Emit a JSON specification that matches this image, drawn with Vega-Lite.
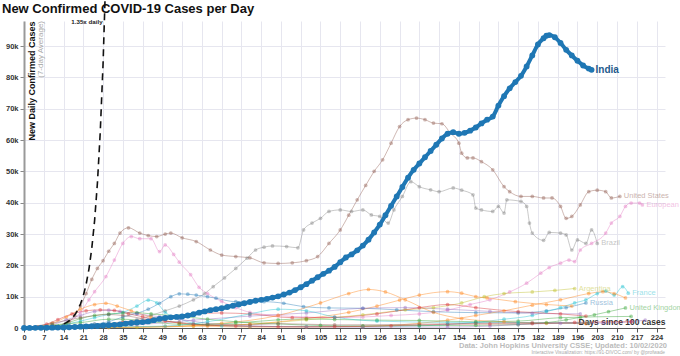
{
  "$schema": "https://vega.github.io/schema/vega-lite/v6.json",
  "autosize": {"type": "none"},
  "padding": {"left": 24, "top": 21, "right": 15, "bottom": 28},
  "width": 641,
  "height": 307,
  "background": "white",
  "config": {
    "view": {"stroke": null},
    "font": "Liberation Sans",
    "axis": {"labelOverlap": false, "labelFlush": false}
  },
  "datasets": {
    "bg": [
      {"c":"United States","d":0,"v":20},{"c":"United States","d":7,"v":60},{"c":"United States","d":10,"v":150},{"c":"United States","d":12,"v":350},{"c":"United States","d":14,"v":900},{"c":"United States","d":16,"v":2000},{"c":"United States","d":18,"v":4000},{"c":"United States","d":20,"v":7000},{"c":"United States","d":22,"v":11000},{"c":"United States","d":24,"v":15500},{"c":"United States","d":26,"v":19000},{"c":"United States","d":28,"v":21500},{"c":"United States","d":30,"v":24500},{"c":"United States","d":32,"v":27000},{"c":"United States","d":34,"v":30300},{"c":"United States","d":37,"v":32000},{"c":"United States","d":41,"v":30300},{"c":"United States","d":44,"v":29500},{"c":"United States","d":47,"v":29200},{"c":"United States","d":50,"v":30000},{"c":"United States","d":52,"v":30300},{"c":"United States","d":56,"v":28800},{"c":"United States","d":61,"v":27600},{"c":"United States","d":66,"v":24900},{"c":"United States","d":70,"v":23300},{"c":"United States","d":75,"v":22800},{"c":"United States","d":80,"v":22400},{"c":"United States","d":85,"v":20800},{"c":"United States","d":90,"v":20600},{"c":"United States","d":95,"v":20800},{"c":"United States","d":100,"v":21500},{"c":"United States","d":104,"v":22800},{"c":"United States","d":108,"v":27000},{"c":"United States","d":112,"v":31300},{"c":"United States","d":115,"v":36000},{"c":"United States","d":118,"v":40900},{"c":"United States","d":121,"v":45500},{"c":"United States","d":124,"v":50000},{"c":"United States","d":127,"v":53700},{"c":"United States","d":130,"v":59000},{"c":"United States","d":133,"v":64300},{"c":"United States","d":136,"v":66500},{"c":"United States","d":139,"v":67000},{"c":"United States","d":142,"v":66500},{"c":"United States","d":145,"v":65400},{"c":"United States","d":148,"v":65200},{"c":"United States","d":151,"v":62200},{"c":"United States","d":154,"v":59000},{"c":"United States","d":155,"v":55800},{"c":"United States","d":157,"v":54300},{"c":"United States","d":159,"v":54300},{"c":"United States","d":162,"v":53100},{"c":"United States","d":166,"v":50500},{"c":"United States","d":170,"v":45100},{"c":"United States","d":172,"v":43500},{"c":"United States","d":176,"v":42000},{"c":"United States","d":180,"v":42000},{"c":"United States","d":184,"v":41500},{"c":"United States","d":187,"v":41500},{"c":"United States","d":190,"v":38800},{"c":"United States","d":192,"v":35000},{"c":"United States","d":194,"v":35600},{"c":"United States","d":197,"v":39300},{"c":"United States","d":200,"v":43500},{"c":"United States","d":203,"v":44000},{"c":"United States","d":206,"v":43500},{"c":"United States","d":208,"v":41500},{"c":"United States","d":211,"v":42000},
      {"c":"Brazil","d":0,"v":15},{"c":"Brazil","d":10,"v":300},{"c":"Brazil","d":15,"v":500},{"c":"Brazil","d":20,"v":900},{"c":"Brazil","d":25,"v":1200},{"c":"Brazil","d":30,"v":1500},{"c":"Brazil","d":35,"v":1900},{"c":"Brazil","d":40,"v":2700},{"c":"Brazil","d":45,"v":4000},{"c":"Brazil","d":50,"v":5500},{"c":"Brazil","d":55,"v":7000},{"c":"Brazil","d":60,"v":9000},{"c":"Brazil","d":64,"v":11000},{"c":"Brazil","d":67,"v":13200},{"c":"Brazil","d":71,"v":16000},{"c":"Brazil","d":75,"v":19000},{"c":"Brazil","d":79,"v":22300},{"c":"Brazil","d":82,"v":24900},{"c":"Brazil","d":85,"v":25800},{"c":"Brazil","d":88,"v":26200},{"c":"Brazil","d":93,"v":26000},{"c":"Brazil","d":97,"v":25600},{"c":"Brazil","d":99,"v":31300},{"c":"Brazil","d":102,"v":33500},{"c":"Brazil","d":105,"v":35000},{"c":"Brazil","d":108,"v":37200},{"c":"Brazil","d":112,"v":37700},{"c":"Brazil","d":116,"v":37200},{"c":"Brazil","d":120,"v":37700},{"c":"Brazil","d":123,"v":36100},{"c":"Brazil","d":126,"v":35600},{"c":"Brazil","d":129,"v":33500},{"c":"Brazil","d":131,"v":37700},{"c":"Brazil","d":134,"v":42000},{"c":"Brazil","d":137,"v":46700},{"c":"Brazil","d":140,"v":45100},{"c":"Brazil","d":144,"v":44100},{"c":"Brazil","d":147,"v":43500},{"c":"Brazil","d":152,"v":44700},{"c":"Brazil","d":155,"v":44000},{"c":"Brazil","d":159,"v":42500},{"c":"Brazil","d":160,"v":38300},{"c":"Brazil","d":162,"v":37700},{"c":"Brazil","d":166,"v":37200},{"c":"Brazil","d":168,"v":38800},{"c":"Brazil","d":170,"v":36700},{"c":"Brazil","d":171,"v":40900},{"c":"Brazil","d":176,"v":40400},{"c":"Brazil","d":178,"v":38800},{"c":"Brazil","d":179,"v":33500},{"c":"Brazil","d":180,"v":30300},{"c":"Brazil","d":184,"v":28000},{"c":"Brazil","d":186,"v":30500},{"c":"Brazil","d":190,"v":30300},{"c":"Brazil","d":192,"v":29700},{"c":"Brazil","d":194,"v":24900},{"c":"Brazil","d":196,"v":28100},{"c":"Brazil","d":199,"v":27000},{"c":"Brazil","d":201,"v":31300},{"c":"Brazil","d":203,"v":27000},
      {"c":"European Union","d":0,"v":20},{"c":"European Union","d":10,"v":300},{"c":"European Union","d":15,"v":1500},{"c":"European Union","d":20,"v":5000},{"c":"European Union","d":23,"v":9000},{"c":"European Union","d":25,"v":11600},{"c":"European Union","d":29,"v":16400},{"c":"European Union","d":32,"v":21700},{"c":"European Union","d":35,"v":27000},{"c":"European Union","d":38,"v":29200},{"c":"European Union","d":41,"v":28500},{"c":"European Union","d":45,"v":28500},{"c":"European Union","d":48,"v":24400},{"c":"European Union","d":50,"v":26500},{"c":"European Union","d":53,"v":23500},{"c":"European Union","d":55,"v":21000},{"c":"European Union","d":59,"v":17000},{"c":"European Union","d":62,"v":13000},{"c":"European Union","d":65,"v":11000},{"c":"European Union","d":70,"v":8500},{"c":"European Union","d":75,"v":6500},{"c":"European Union","d":80,"v":5000},{"c":"European Union","d":90,"v":4000},{"c":"European Union","d":100,"v":3500},{"c":"European Union","d":110,"v":3300},{"c":"European Union","d":120,"v":3500},{"c":"European Union","d":130,"v":4000},{"c":"European Union","d":140,"v":4500},{"c":"European Union","d":150,"v":5700},{"c":"European Union","d":158,"v":7500},{"c":"European Union","d":165,"v":9000},{"c":"European Union","d":172,"v":11500},{"c":"European Union","d":178,"v":14300},{"c":"European Union","d":183,"v":17500},{"c":"European Union","d":186,"v":19300},{"c":"European Union","d":190,"v":20700},{"c":"European Union","d":193,"v":21700},{"c":"European Union","d":195,"v":21200},{"c":"European Union","d":197,"v":24900},{"c":"European Union","d":201,"v":27000},{"c":"European Union","d":206,"v":30300},{"c":"European Union","d":208,"v":33500},{"c":"European Union","d":211,"v":35600},{"c":"European Union","d":213,"v":38800},{"c":"European Union","d":215,"v":39900},{"c":"European Union","d":218,"v":39900},{"c":"European Union","d":219,"v":39300},
      {"c":"Russia","d":0,"v":20},{"c":"Russia","d":10,"v":100},{"c":"Russia","d":15,"v":300},{"c":"Russia","d":20,"v":600},{"c":"Russia","d":25,"v":1200},{"c":"Russia","d":30,"v":2000},{"c":"Russia","d":35,"v":3500},{"c":"Russia","d":40,"v":4700},{"c":"Russia","d":44,"v":6000},{"c":"Russia","d":48,"v":7900},{"c":"Russia","d":52,"v":10000},{"c":"Russia","d":55,"v":10900},{"c":"Russia","d":58,"v":10800},{"c":"Russia","d":61,"v":10500},{"c":"Russia","d":65,"v":10000},{"c":"Russia","d":68,"v":9500},{"c":"Russia","d":75,"v":8400},{"c":"Russia","d":85,"v":8400},{"c":"Russia","d":92,"v":7900},{"c":"Russia","d":99,"v":6800},{"c":"Russia","d":108,"v":6400},{"c":"Russia","d":120,"v":6300},{"c":"Russia","d":132,"v":5800},{"c":"Russia","d":145,"v":5200},{"c":"Russia","d":160,"v":4900},{"c":"Russia","d":175,"v":4800},{"c":"Russia","d":185,"v":5500},{"c":"Russia","d":192,"v":6500},{"c":"Russia","d":199,"v":8000},
      {"c":"Argentina","d":0,"v":10},{"c":"Argentina","d":20,"v":100},{"c":"Argentina","d":40,"v":200},{"c":"Argentina","d":60,"v":600},{"c":"Argentina","d":80,"v":1200},{"c":"Argentina","d":100,"v":2600},{"c":"Argentina","d":120,"v":4200},{"c":"Argentina","d":135,"v":5800},{"c":"Argentina","d":145,"v":6500},{"c":"Argentina","d":155,"v":8000},{"c":"Argentina","d":163,"v":10000},{"c":"Argentina","d":170,"v":11000},{"c":"Argentina","d":180,"v":11500},{"c":"Argentina","d":188,"v":12000},{"c":"Argentina","d":195,"v":12600},
      {"c":"France","d":0,"v":20},{"c":"France","d":10,"v":400},{"c":"France","d":15,"v":1200},{"c":"France","d":20,"v":2200},{"c":"France","d":25,"v":3300},{"c":"France","d":30,"v":4300},{"c":"France","d":35,"v":5000},{"c":"France","d":40,"v":7000},{"c":"France","d":44,"v":8900},{"c":"France","d":47,"v":8000},{"c":"France","d":50,"v":5000},{"c":"France","d":55,"v":3000},{"c":"France","d":60,"v":1500},{"c":"France","d":70,"v":700},{"c":"France","d":80,"v":500},{"c":"France","d":100,"v":500},{"c":"France","d":120,"v":550},{"c":"France","d":140,"v":700},{"c":"France","d":150,"v":1100},{"c":"France","d":160,"v":1800},{"c":"France","d":170,"v":2800},{"c":"France","d":180,"v":4000},{"c":"France","d":185,"v":5200},{"c":"France","d":190,"v":6500},{"c":"France","d":195,"v":8000},{"c":"France","d":199,"v":9000},{"c":"France","d":203,"v":11000},{"c":"France","d":206,"v":11800},{"c":"France","d":209,"v":10500},{"c":"France","d":212,"v":13200},{"c":"France","d":214,"v":11100},
      {"c":"Spain","d":0,"v":20},{"c":"Spain","d":5,"v":400},{"c":"Spain","d":10,"v":1500},{"c":"Spain","d":15,"v":3500},{"c":"Spain","d":20,"v":6000},{"c":"Spain","d":25,"v":7500},{"c":"Spain","d":29,"v":7900},{"c":"Spain","d":33,"v":7000},{"c":"Spain","d":38,"v":5500},{"c":"Spain","d":45,"v":3500},{"c":"Spain","d":55,"v":1500},{"c":"Spain","d":65,"v":600},{"c":"Spain","d":80,"v":300},{"c":"Spain","d":100,"v":300},{"c":"Spain","d":120,"v":500},{"c":"Spain","d":140,"v":1500},{"c":"Spain","d":150,"v":2500},{"c":"Spain","d":160,"v":4000},{"c":"Spain","d":170,"v":5500},{"c":"Spain","d":180,"v":7300},{"c":"Spain","d":190,"v":9000},{"c":"Spain","d":200,"v":11000},{"c":"Spain","d":205,"v":11600},{"c":"Spain","d":209,"v":11000},{"c":"Spain","d":213,"v":9600},
      {"c":"Colombia","d":0,"v":10},{"c":"Colombia","d":30,"v":150},{"c":"Colombia","d":60,"v":600},{"c":"Colombia","d":80,"v":1200},{"c":"Colombia","d":100,"v":3000},{"c":"Colombia","d":115,"v":5000},{"c":"Colombia","d":125,"v":7000},{"c":"Colombia","d":133,"v":8900},{"c":"Colombia","d":140,"v":10500},{"c":"Colombia","d":150,"v":11600},{"c":"Colombia","d":155,"v":11100},{"c":"Colombia","d":160,"v":10000},{"c":"Colombia","d":164,"v":9600},{"c":"Colombia","d":174,"v":8400},{"c":"Colombia","d":185,"v":7500},{"c":"Colombia","d":194,"v":7000},
      {"c":"Mexico","d":0,"v":10},{"c":"Mexico","d":20,"v":250},{"c":"Mexico","d":40,"v":1000},{"c":"Mexico","d":60,"v":2500},{"c":"Mexico","d":80,"v":3800},{"c":"Mexico","d":100,"v":4800},{"c":"Mexico","d":120,"v":6300},{"c":"Mexico","d":135,"v":6500},{"c":"Mexico","d":150,"v":6000},{"c":"Mexico","d":165,"v":5300},{"c":"Mexico","d":180,"v":4700},{"c":"Mexico","d":197,"v":4500},
      {"c":"Peru","d":0,"v":10},{"c":"Peru","d":20,"v":300},{"c":"Peru","d":35,"v":1800},{"c":"Peru","d":50,"v":3500},{"c":"Peru","d":60,"v":4500},{"c":"Peru","d":70,"v":4800},{"c":"Peru","d":80,"v":4500},{"c":"Peru","d":95,"v":3300},{"c":"Peru","d":110,"v":3400},{"c":"Peru","d":125,"v":4500},{"c":"Peru","d":140,"v":6500},{"c":"Peru","d":150,"v":7500},{"c":"Peru","d":160,"v":6500},{"c":"Peru","d":175,"v":5200},{"c":"Peru","d":190,"v":4500},{"c":"Peru","d":199,"v":3800},
      {"c":"South Africa","d":0,"v":10},{"c":"South Africa","d":30,"v":200},{"c":"South Africa","d":50,"v":500},{"c":"South Africa","d":70,"v":1500},{"c":"South Africa","d":90,"v":4000},{"c":"South Africa","d":105,"v":8000},{"c":"South Africa","d":115,"v":11000},{"c":"South Africa","d":122,"v":12300},{"c":"South Africa","d":128,"v":11500},{"c":"South Africa","d":135,"v":9000},{"c":"South Africa","d":145,"v":5000},{"c":"South Africa","d":155,"v":3000},{"c":"South Africa","d":170,"v":2000},{"c":"South Africa","d":185,"v":1500},{"c":"South Africa","d":199,"v":1400},
      {"c":"United Kingdom","d":0,"v":10},{"c":"United Kingdom","d":10,"v":500},{"c":"United Kingdom","d":15,"v":1500},{"c":"United Kingdom","d":20,"v":3000},{"c":"United Kingdom","d":25,"v":4000},{"c":"United Kingdom","d":30,"v":4500},{"c":"United Kingdom","d":35,"v":4800},{"c":"United Kingdom","d":40,"v":4900},{"c":"United Kingdom","d":45,"v":4500},{"c":"United Kingdom","d":55,"v":3800},{"c":"United Kingdom","d":65,"v":2800},{"c":"United Kingdom","d":75,"v":2000},{"c":"United Kingdom","d":90,"v":1300},{"c":"United Kingdom","d":105,"v":800},{"c":"United Kingdom","d":120,"v":650},{"c":"United Kingdom","d":140,"v":750},{"c":"United Kingdom","d":160,"v":850},{"c":"United Kingdom","d":175,"v":1100},{"c":"United Kingdom","d":185,"v":1700},{"c":"United Kingdom","d":192,"v":2600},{"c":"United Kingdom","d":197,"v":3400},{"c":"United Kingdom","d":202,"v":4200},{"c":"United Kingdom","d":207,"v":5200},{"c":"United Kingdom","d":213,"v":6400},
      {"c":"Italy","d":0,"v":30},{"c":"Italy","d":5,"v":300},{"c":"Italy","d":10,"v":1000},{"c":"Italy","d":15,"v":2600},{"c":"Italy","d":20,"v":4000},{"c":"Italy","d":25,"v":5300},{"c":"Italy","d":30,"v":5700},{"c":"Italy","d":34,"v":5300},{"c":"Italy","d":40,"v":4500},{"c":"Italy","d":48,"v":3600},{"c":"Italy","d":55,"v":2800},{"c":"Italy","d":65,"v":1500},{"c":"Italy","d":80,"v":700},{"c":"Italy","d":100,"v":300},{"c":"Italy","d":120,"v":250},{"c":"Italy","d":150,"v":300},{"c":"Italy","d":165,"v":600},{"c":"Italy","d":175,"v":1100},{"c":"Italy","d":190,"v":1500},{"c":"Italy","d":205,"v":1600},{"c":"Italy","d":215,"v":2000},{"c":"Italy","d":220,"v":2500},
      {"c":"Germany","d":0,"v":20},{"c":"Germany","d":8,"v":1200},{"c":"Germany","d":12,"v":2700},{"c":"Germany","d":17,"v":4500},{"c":"Germany","d":22,"v":5500},{"c":"Germany","d":27,"v":5800},{"c":"Germany","d":32,"v":5600},{"c":"Germany","d":37,"v":4500},{"c":"Germany","d":42,"v":3600},{"c":"Germany","d":50,"v":2200},{"c":"Germany","d":60,"v":1200},{"c":"Germany","d":75,"v":600},{"c":"Germany","d":90,"v":400},{"c":"Germany","d":110,"v":450},{"c":"Germany","d":130,"v":700},{"c":"Germany","d":150,"v":1200},{"c":"Germany","d":165,"v":1300},{"c":"Germany","d":180,"v":1400},{"c":"Germany","d":195,"v":1800},{"c":"Germany","d":215,"v":2000},
      {"c":"Iran","d":0,"v":50},{"c":"Iran","d":10,"v":1000},{"c":"Iran","d":20,"v":1700},{"c":"Iran","d":30,"v":2800},{"c":"Iran","d":35,"v":2800},{"c":"Iran","d":45,"v":2000},{"c":"Iran","d":55,"v":1200},{"c":"Iran","d":65,"v":1200},{"c":"Iran","d":75,"v":1600},{"c":"Iran","d":90,"v":2600},{"c":"Iran","d":100,"v":2900},{"c":"Iran","d":110,"v":2700},{"c":"Iran","d":125,"v":2500},{"c":"Iran","d":140,"v":2400},{"c":"Iran","d":160,"v":2000},{"c":"Iran","d":175,"v":2200},{"c":"Iran","d":190,"v":3300},{"c":"Iran","d":215,"v":3700},
      {"c":"Chile","d":0,"v":10},{"c":"Chile","d":30,"v":350},{"c":"Chile","d":50,"v":600},{"c":"Chile","d":65,"v":2000},{"c":"Chile","d":80,"v":4500},{"c":"Chile","d":90,"v":6000},{"c":"Chile","d":100,"v":5500},{"c":"Chile","d":110,"v":3500},{"c":"Chile","d":125,"v":2200},{"c":"Chile","d":150,"v":1800},{"c":"Chile","d":175,"v":1700},{"c":"Chile","d":200,"v":1600},
      {"c":"Turkey","d":0,"v":50},{"c":"Turkey","d":10,"v":1500},{"c":"Turkey","d":20,"v":3300},{"c":"Turkey","d":30,"v":4300},{"c":"Turkey","d":35,"v":4000},{"c":"Turkey","d":45,"v":2600},{"c":"Turkey","d":55,"v":1800},{"c":"Turkey","d":65,"v":1000},{"c":"Turkey","d":80,"v":1000},{"c":"Turkey","d":90,"v":1400},{"c":"Turkey","d":110,"v":1000},{"c":"Turkey","d":140,"v":1200},{"c":"Turkey","d":160,"v":1500},{"c":"Turkey","d":180,"v":1700},{"c":"Turkey","d":200,"v":1500}
    ],
    "india": [
      {"d":0,"v":15},{"d":2,"v":25},{"d":4,"v":40},{"d":6,"v":60},{"d":8,"v":80},{"d":10,"v":100},{"d":12,"v":120},{"d":14,"v":150},{"d":16,"v":230},{"d":18,"v":320},{"d":20,"v":420},{"d":22,"v":500},{"d":24,"v":560},{"d":26,"v":650},{"d":28,"v":800},{"d":30,"v":900},{"d":32,"v":1000},{"d":34,"v":1150},{"d":36,"v":1400},{"d":38,"v":1600},{"d":40,"v":1750},{"d":42,"v":1900},{"d":44,"v":2100},{"d":46,"v":2500},{"d":48,"v":2900},{"d":50,"v":3200},{"d":52,"v":3400},{"d":54,"v":3550},{"d":56,"v":3700},{"d":58,"v":4000},{"d":60,"v":4400},{"d":62,"v":4900},{"d":64,"v":5300},{"d":66,"v":5700},{"d":68,"v":6000},{"d":70,"v":6300},{"d":72,"v":6700},{"d":74,"v":7100},{"d":76,"v":7500},{"d":78,"v":7900},{"d":80,"v":8300},{"d":82,"v":8700},{"d":84,"v":9000},{"d":86,"v":9300},{"d":88,"v":9700},{"d":90,"v":10100},{"d":92,"v":10700},{"d":94,"v":11300},{"d":96,"v":12100},{"d":98,"v":13000},{"d":100,"v":14000},{"d":102,"v":15100},{"d":104,"v":16200},{"d":106,"v":17300},{"d":108,"v":18300},{"d":110,"v":19500},{"d":112,"v":21000},{"d":114,"v":22500},{"d":116,"v":23500},{"d":118,"v":24800},{"d":120,"v":26300},{"d":122,"v":28200},{"d":124,"v":30500},{"d":126,"v":33000},{"d":128,"v":36000},{"d":130,"v":39000},{"d":132,"v":42000},{"d":134,"v":45000},{"d":136,"v":48000},{"d":138,"v":50500},{"d":140,"v":52500},{"d":142,"v":54500},{"d":144,"v":56500},{"d":146,"v":58500},{"d":148,"v":60500},{"d":150,"v":62000},{"d":152,"v":62500},{"d":154,"v":62000},{"d":156,"v":62300},{"d":158,"v":63000},{"d":160,"v":64000},{"d":162,"v":65300},{"d":164,"v":66500},{"d":166,"v":67500},{"d":168,"v":71000},{"d":170,"v":74000},{"d":172,"v":76500},{"d":174,"v":78500},{"d":176,"v":80500},{"d":178,"v":83500},{"d":180,"v":87000},{"d":182,"v":90500},{"d":184,"v":92500},{"d":185,"v":93300},{"d":186,"v":93500},{"d":188,"v":92800},{"d":190,"v":91000},{"d":192,"v":88800},{"d":194,"v":87000},{"d":196,"v":85300},{"d":198,"v":83800},{"d":200,"v":82800},{"d":201,"v":82400}
    ],
    "growth": [
      {"d":10,"v":380},{"d":12,"v":693},{"d":14,"v":1263},{"d":15,"v":1705},{"d":16,"v":2302},{"d":17,"v":3108},{"d":18,"v":4194},{"d":19,"v":5665},{"d":20,"v":7645},{"d":21,"v":10321},{"d":22,"v":13934},{"d":23,"v":18810},{"d":24,"v":25395},{"d":25,"v":34290},{"d":26,"v":46279},{"d":27,"v":62476},{"d":28,"v":84345},{"d":29,"v":113866},{"d":30,"v":153720}
    ]
  },
  "encoding": {
    "x": {"field": "d", "type": "quantitative",
      "scale": {"domain": [0, 227], "nice": false, "zero": false},
      "axis": {
        "values": [0,7,14,21,28,35,42,49,56,63,70,77,84,91,98,105,112,119,126,133,140,147,154,161,168,175,182,189,196,203,210,217,224],
        "labelOverlap": false, "labelFlush": false, "format": "d",
        "labelFont": "Liberation Sans", "labelFontSize": 7.5, "labelFontWeight": "bold", "labelColor": "#333",
        "labelPadding": 1, "tickSize": 4, "tickColor": "#555", "domainColor": "#555", "domainWidth": 1.2,
        "gridColor": "#e6e6ef", "gridWidth": 1,
        "title": "Days since 100 cases", "titleFont": "Liberation Sans", "titleFontSize": 8.5, "titleFontWeight": "bold", "titleColor": "#333",
        "titleX": 641, "titleY": -2, "titleAlign": "right", "titleAnchor": "end", "titleBaseline": "bottom"
      }
    },
    "y": {"field": "v", "type": "quantitative",
      "scale": {"domain": [0, 98000], "nice": false},
      "axis": {
        "values": [0,10000,20000,30000,40000,50000,60000,70000,80000,90000],
        "labelExpr": "datum.value == 0 ? '0' : (datum.value / 1000) + 'k'",
        "labelOverlap": false, "labelFlush": false,
        "labelFont": "Liberation Sans", "labelFontSize": 7.5, "labelFontWeight": "bold", "labelColor": "#333",
        "labelPadding": 2, "tickSize": 4, "tickColor": "#888", "domainColor": "#999", "domainWidth": 2,
        "gridColor": "#e6e6ef", "gridWidth": 1,
        "title": "New Daily Confirmed Cases", "titleFont": "Liberation Sans", "titleFontSize": 9, "titleFontWeight": "bold", "titleColor": "#111",
        "titleAngle": 270, "titleX": 3, "titleY": 0, "titleAlign": "right", "titleAnchor": "end", "titleBaseline": "top"
      }
    }
  },
  "layer": [
    {
      "data": {"name": "bg"},
      "mark": {"type": "line", "strokeWidth": 1, "opacity": 0.42, "interpolate": "monotone", "clip": true},
      "encoding": {
        "color": {"field": "c", "type": "nominal", "legend": null,
          "scale": {
            "domain": ["United States","Brazil","European Union","Russia","Argentina","France","Spain","Colombia","Mexico","Peru","South Africa","United Kingdom","Italy","Germany","Iran","Chile","Turkey"],
            "range": ["#8c564b","#7f7f7f","#e377c2","#1f77b4","#bcbd22","#17becf","#ff7f0e","#ff7f0e","#9467bd","#d62728","#ff7f0e","#2ca02c","#9467bd","#d62728","#2ca02c","#17becf","#8c564b"]
          }
        },
        "detail": {"field": "c"}
      }
    },
    {
      "data": {"name": "bg"},
      "mark": {"type": "point", "filled": true, "size": 14, "opacity": 0.42},
      "encoding": {
        "color": {"field": "c", "type": "nominal", "legend": null}
      }
    },
    {
      "data": {"name": "bg"},
      "transform": [
        {"joinaggregate": [{"op": "max", "field": "d", "as": "maxd"}], "groupby": ["c"]},
        {"filter": "datum.d === datum.maxd"},
        {"filter": {"field": "c", "oneOf": ["United States","Brazil","European Union","Argentina","France","United Kingdom","Russia"]}}
      ],
      "mark": {"type": "text", "align": "left", "baseline": "middle", "dx": 4, "fontSize": 7.5, "opacity": 0.45, "font": "Liberation Sans"},
      "encoding": {
        "text": {"field": "c"},
        "color": {"field": "c", "type": "nominal", "legend": null}
      }
    },
    {
      "data": {"name": "growth"},
      "mark": {"type": "line", "color": "#111", "strokeWidth": 1.6, "strokeDash": [7, 5], "clip": false},
      "encoding": {}
    },
    {
      "data": {"name": "india"},
      "mark": {"type": "line", "color": "#1f77b4", "strokeWidth": 4, "interpolate": "monotone"},
      "encoding": {}
    },
    {
      "data": {"name": "india"},
      "mark": {"type": "point", "filled": true, "size": 34, "color": "#1f77b4", "opacity": 1},
      "encoding": {}
    },
    {
      "data": {"values": [{"c": "India", "d": 201, "v": 82400}]},
      "mark": {"type": "text", "align": "left", "baseline": "middle", "dx": 4, "fontSize": 10, "fontWeight": "bold", "color": "#1f5a8c", "font": "Liberation Sans"},
      "encoding": {"text": {"field": "c"}}
    },
    {
      "data": {"values": [{"t": "1.35x daily", "d": 28.2, "v": 98000}]},
      "mark": {"type": "text", "align": "right", "baseline": "middle", "dy": 1, "dx": -1, "fontSize": 6.2, "fontWeight": "bold", "color": "#222", "font": "Liberation Sans"},
      "encoding": {"text": {"field": "t"}}
    },
    {
      "data": {"values": [{"t": "(7-day Average)", "d": 0, "v": 98000}]},
      "mark": {"type": "text", "angle": 270, "align": "right", "baseline": "top", "dy": 13, "dx": 0, "fontSize": 8, "color": "#aaa", "font": "Liberation Sans"},
      "encoding": {"text": {"field": "t"}}
    },
    {
      "data": {"values": [{"t": "New Confirmed COVID-19 Cases per Day", "d": 0, "v": 98000}]},
      "mark": {"type": "text", "align": "left", "baseline": "alphabetic", "dx": -22, "dy": -8, "fontSize": 13, "fontWeight": "bold", "color": "#111", "font": "Liberation Sans"},
      "encoding": {"text": {"field": "t"}}
    },
    {
      "data": {"values": [{"t": "Data: John Hopkins University CSSE; Updated: 10/02/2020", "d": 227, "v": 0}]},
      "mark": {"type": "text", "align": "right", "baseline": "alphabetic", "dy": 20, "dx": 2, "fontSize": 7.5, "fontWeight": "bold", "color": "#bbb", "font": "Liberation Sans"},
      "encoding": {"text": {"field": "t"}}
    },
    {
      "data": {"values": [{"t": "Interactive Visualization: https://91-DIVOC.com/ by @profwade", "d": 227, "v": 0}]},
      "mark": {"type": "text", "align": "right", "baseline": "alphabetic", "dy": 26, "dx": 0, "fontSize": 4.8, "color": "#aaa", "font": "Liberation Sans"},
      "encoding": {"text": {"field": "t"}}
    }
  ]
}
